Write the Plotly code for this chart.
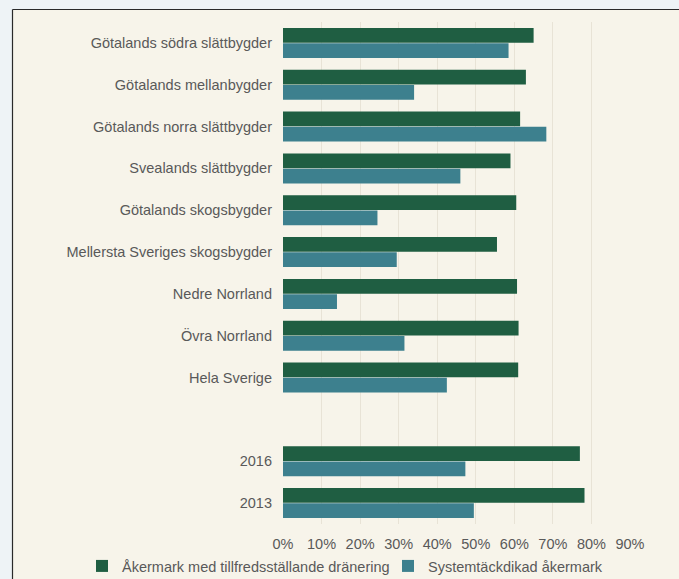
import plotly.graph_objects as go

# Regions (top to bottom), a blank spacer row, then national totals by year
categories = [
    "Götalands södra slättbygder",
    "Götalands mellanbygder",
    "Götalands norra slättbygder",
    "Svealands slättbygder",
    "Götalands skogsbygder",
    "Mellersta Sveriges skogsbygder",
    "Nedre Norrland",
    "Övra Norrland",
    "Hela Sverige",
    " ",
    "2016",
    "2013",
]

# Share of arable land with satisfactory drainage
drained_ok = [0.65, 0.63, 0.615, 0.59, 0.605, 0.555, 0.607, 0.611, 0.61, None, 0.77, 0.782]
# Share of systematically tile-drained arable land
tile_drained = [0.585, 0.34, 0.683, 0.46, 0.245, 0.295, 0.14, 0.315, 0.425, None, 0.473, 0.495]

series_names = [
    "Åkermark med tillfredsställande dränering",
    "Systemtäckdikad åkermark",
]

tick_vals = [0, 0.1, 0.2, 0.3, 0.4, 0.5, 0.6, 0.7, 0.8, 0.9]
tick_text = ["0%", "10%", "20%", "30%", "40%", "50%", "60%", "70%", "80%", "90%"]

GREEN = "#1f5e42"
TEAL = "#3d808e"
BEIGE = "#f7f4ea"
FRAME_BG = "#eef3f6"
TEXT = "#595959"
FONT = "Liberation Sans, Arial, sans-serif"

W, H = 679, 579
L, R, T, B = 283, 49, 22, 55
PW, PH = W - L - R, H - T - B


def px(x):
    return (x - L) / PW


def py(y):
    return (H - B - y) / PH


fig = go.Figure()
fig.add_trace(go.Bar(
    y=categories, x=drained_ok, orientation="h", name=series_names[0],
    marker=dict(color=GREEN, line=dict(width=0)), legend="legend",
))
fig.add_trace(go.Bar(
    y=categories, x=tile_drained, orientation="h", name=series_names[1],
    marker=dict(color=TEAL, line=dict(width=0)), legend="legend2",
))

shapes = [
    # light outer frame strips on the left and top
    dict(type="rect", xref="paper", yref="paper", x0=px(0), x1=px(12.5), y0=py(H), y1=py(0),
         fillcolor=FRAME_BG, line=dict(width=0), layer="below"),
    dict(type="rect", xref="paper", yref="paper", x0=px(0), x1=px(W), y0=py(9.5), y1=py(0),
         fillcolor=FRAME_BG, line=dict(width=0), layer="below"),
    # dark border lines
    dict(type="line", xref="paper", yref="paper", x0=px(12.5), x1=px(12.5), y0=py(9.5), y1=py(H),
         line=dict(color="#2a2a2a", width=1.2)),
    dict(type="line", xref="paper", yref="paper", x0=px(12.5), x1=px(W), y0=py(9.5), y1=py(9.5),
         line=dict(color="#2a2a2a", width=1.2)),
]

legend_style = dict(
    orientation="h", yanchor="middle", y=py(566), xanchor="left",
    font=dict(size=14.5, color=TEXT), bgcolor="rgba(0,0,0,0)",
    itemwidth=30, borderwidth=0,
)

fig.update_layout(
    width=W, height=H,
    margin=dict(l=L, r=R, t=T, b=B, pad=0, autoexpand=False),
    paper_bgcolor=BEIGE,
    plot_bgcolor=BEIGE,
    barmode="group",
    bargap=0.27,
    bargroupgap=0.03,
    font=dict(family=FONT, size=14.5, color=TEXT),
    shapes=shapes,
    showlegend=True,
    legend=dict(x=px(82), **legend_style),
    legend2=dict(x=px(388), **legend_style),
    xaxis=dict(
        range=[0, 0.9], tickvals=tick_vals, ticktext=tick_text,
        showgrid=True, gridcolor="#e8e3d6", gridwidth=1,
        zeroline=False, showline=False, ticks="",
        ticklabelstandoff=9,
        tickfont=dict(size=14.5, color=TEXT), fixedrange=True,
        automargin=False,
    ),
    yaxis=dict(
        categoryorder="array", categoryarray=categories, autorange="reversed",
        showgrid=False, zeroline=False, showline=False, ticks="",
        ticklabelstandoff=10, automargin=False,
        tickfont=dict(size=14.5, color=TEXT), fixedrange=True,
    ),
)

fig.write_html("out.html")
